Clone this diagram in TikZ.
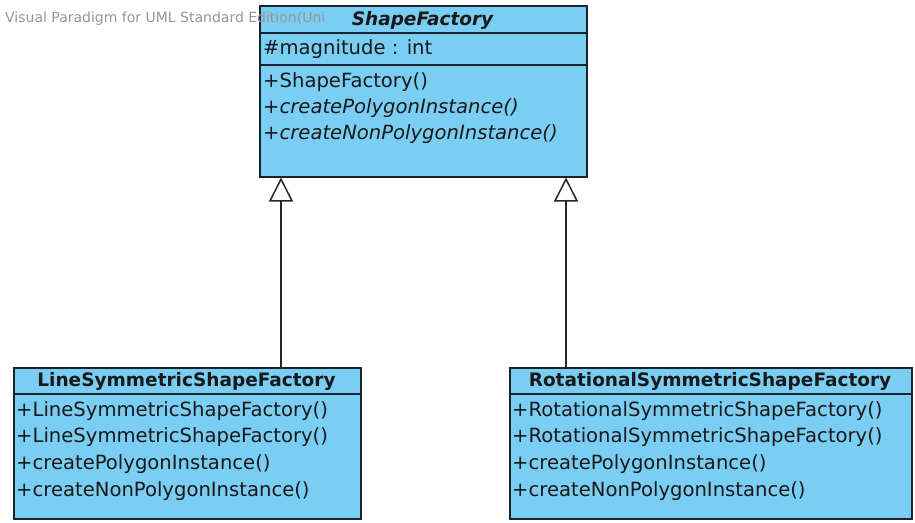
\documentclass[tikz,border=0pt]{standalone}
\usepackage{fontspec}
\setmainfont{DejaVu Sans}
\usetikzlibrary{arrows.meta}
\definecolor{umlfill}{RGB}{122,206,243}
\definecolor{umlborder}{RGB}{25,35,45}
\definecolor{wmgray}{RGB}{150,150,150}
\tikzset{
  classbox/.style={draw=umlborder, fill=umlfill, line width=1.5pt, rectangle, inner sep=0pt, anchor=north west},
  sepline/.style={draw=umlborder, line width=1.5pt},
  member/.style={anchor=west, inner sep=0pt, font=\fontsize{19.6}{22}\selectfont, text=black!90},
  titletext/.style={inner sep=0pt, font=\fontsize{18.5}{22}\selectfont\bfseries, text=black!90},
  gen/.style={draw=black!85, line width=1.5pt, -{Triangle[open, length=24pt, width=24pt, fill=white]}},
  watermark/.style={anchor=west, inner sep=0pt, font=\fontsize{14}{16}\selectfont, text=wmgray}
}
\begin{document}
\begin{tikzpicture}[x=1pt,y=-1pt]
\useasboundingbox (0,0) rectangle (915,522);
% ShapeFactory
\node[classbox, minimum width=327pt, minimum height=171pt] (sf) at (259,5) {};
\draw[sepline] (259,33) -- (586,33);
\draw[sepline] (259,65) -- (586,65);
\node[watermark] (wm) at (5,19) {Visual Paradigm for UML Standard Edition(Uni};
\node[titletext] (sft) at (422.5,20) {\itshape ShapeFactory};
\node[member] (sfa) at (263,49) {\#magnitude : int};
\node[member] (sfm1) at (263,82) {+ShapeFactory()};
\node[member] (sfm2) at (263,108) {\itshape +createPolygonInstance()};
\node[member] (sfm3) at (263,134) {\itshape +createNonPolygonInstance()};
% LineSymmetricShapeFactory
\node[classbox, minimum width=347pt, minimum height=151pt] (ls) at (13,367) {};
\draw[sepline] (13,394) -- (360,394);
\node[titletext] (lst) at (186.5,381) {LineSymmetricShapeFactory};
\node[member] (lsm1) at (16,411) {+LineSymmetricShapeFactory()};
\node[member] (lsm2) at (16,437) {+LineSymmetricShapeFactory()};
\node[member] (lsm3) at (16,464) {+createPolygonInstance()};
\node[member] (lsm4) at (16,491) {+createNonPolygonInstance()};
% RotationalSymmetricShapeFactory
\node[classbox, minimum width=402pt, minimum height=151pt] (rs) at (509,367) {};
\draw[sepline] (509,394) -- (911,394);
\node[titletext] (rst) at (710,381) {RotationalSymmetricShapeFactory};
\node[member] (rsm1) at (512,411) {+RotationalSymmetricShapeFactory()};
\node[member] (rsm2) at (512,437) {+RotationalSymmetricShapeFactory()};
\node[member] (rsm3) at (512,464) {+createPolygonInstance()};
\node[member] (rsm4) at (512,491) {+createNonPolygonInstance()};
% generalizations
\draw[gen] (ls.north west) ++(268,0) coordinate (lsa) -- (lsa |- sf.south);
\draw[gen] (rs.north west) ++(57,0) coordinate (rsa) -- (rsa |- sf.south);
\end{tikzpicture}
\end{document}
